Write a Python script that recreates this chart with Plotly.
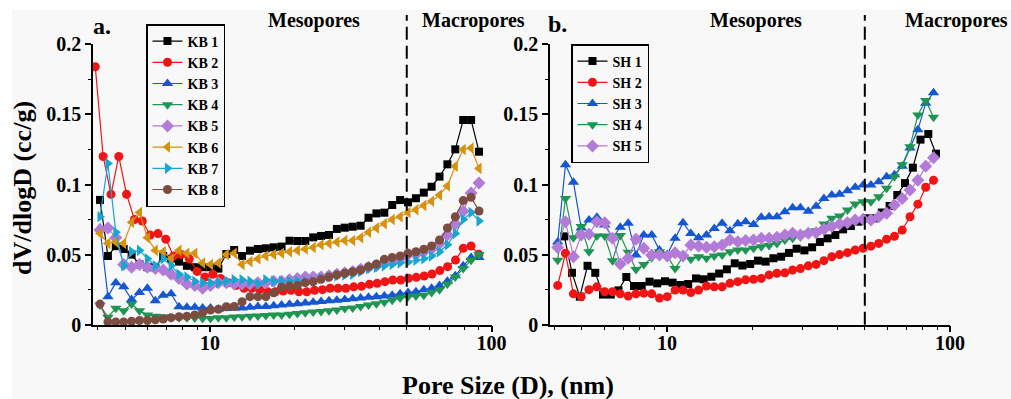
import plotly.graph_objects as go

# ---------------- pore diameters (nm) ----------------
pore_kb = [4.067, 4.339, 4.628, 4.937, 5.266, 5.617, 5.993, 6.393, 6.819, 7.275,
           7.760, 8.278, 8.831, 9.413, 10.04, 10.71, 11.43, 12.19, 13.00, 13.87,
           14.80, 15.79, 16.84, 17.96, 19.16, 20.44, 21.80, 23.26, 24.81, 26.47,
           28.23, 30.12, 32.13, 34.28, 36.57, 39.01, 41.62, 44.39, 47.36, 50.52,
           53.89, 57.48, 61.26, 65.35, 69.72, 74.37, 79.34, 84.64, 90.29]
pore_kb2 = [3.913, 4.173, 4.450, 4.742, 5.054, 5.391, 5.747, 6.128, 6.535, 6.966,
            7.425, 7.913, 8.443, 9.000, 9.592, 10.23, 10.91, 11.63, 12.39, 13.21,
            14.09, 15.02, 16.02, 17.08, 18.20, 19.41, 20.69, 22.06, 23.52, 25.08,
            26.73, 28.50, 30.39, 32.40, 34.54, 36.85, 39.26, 41.85, 44.61, 47.58,
            50.72, 54.07, 57.66, 61.47, 65.52, 69.84, 74.50, 79.40, 84.64, 90.21]
pore_sh = [4.110, 4.378, 4.670, 4.975, 5.302, 5.653, 6.025, 6.420, 6.839, 7.293,
           7.771, 8.279, 8.830, 9.408, 10.02, 10.68, 11.39, 12.14, 12.93, 13.79,
           14.69, 15.66, 16.69, 17.79, 18.96, 20.22, 21.54, 22.95, 24.46, 26.09,
           27.79, 29.61, 31.57, 33.65, 35.85, 38.23, 40.73, 43.41, 46.24, 49.32,
           52.55, 56.00, 59.70, 63.62, 67.78, 72.23, 77.01, 82.06, 87.45]
pore_sh1 = [4.337, 4.617, 4.920, 5.239, 5.579, 5.940, 6.330, 6.740, 7.181, 7.646,
            8.140, 8.674, 9.235, 9.838, 10.47, 11.16, 11.88, 12.66, 13.48, 14.35,
            15.29, 16.28, 17.35, 18.47, 19.68, 20.96, 22.31, 23.77, 25.31, 26.97,
            28.71, 30.59, 32.57, 34.70, 36.95, 39.34, 41.91, 44.63, 47.54, 50.61,
            53.93, 57.41, 61.17, 65.13, 69.34, 73.90, 78.66, 83.82, 89.24]

# ---------------- dV/dlogD (cc/g), KB samples ----------------
kb1 = [0.089, 0.049, 0.056, 0.054, 0.050, 0.043, 0.041, 0.041, 0.049, 0.047,
       0.045, 0.042, 0.041, 0.041, 0.041, 0.040, 0.0504, 0.0533, 0.049, 0.0528,
       0.054, 0.0545, 0.0552, 0.0557, 0.0599, 0.0597, 0.0597, 0.0623, 0.0633, 0.064,
       0.0683, 0.0692, 0.0699, 0.0706, 0.0763, 0.0794, 0.0799, 0.0854, 0.0889, 0.0873,
       0.0902, 0.0942, 0.0984, 0.1056, 0.1144, 0.1251, 0.146, 0.146, 0.1234]
kb2 = [0.184, 0.120, 0.093, 0.120, 0.093, 0.075, 0.074, 0.064, 0.065, 0.061,
       0.049, 0.050, 0.047, 0.038, 0.034, 0.036, 0.033, 0.030, 0.028, 0.026,
       0.026, 0.025, 0.0235, 0.0235, 0.024, 0.0245, 0.0235, 0.0235, 0.0245, 0.025,
       0.026, 0.026, 0.026, 0.027, 0.0274, 0.0288, 0.0295, 0.0307, 0.0319, 0.0319,
       0.0331, 0.0338, 0.0347, 0.0362, 0.0386, 0.0414, 0.0461, 0.0545, 0.0561, 0.0502]
kb3 = [0.069, 0.020, 0.030, 0.027, 0.018, 0.023, 0.026, 0.017, 0.021, 0.022,
       0.0128, 0.0125, 0.0125, 0.012, 0.012, 0.011, 0.0115, 0.012, 0.012, 0.0125,
       0.013, 0.013, 0.0135, 0.014, 0.0145, 0.015, 0.0155, 0.016, 0.0165, 0.017,
       0.0175, 0.018, 0.0185, 0.019, 0.0195, 0.020, 0.0205, 0.021, 0.022, 0.023,
       0.0235, 0.025, 0.026, 0.028, 0.031, 0.035, 0.042, 0.048, 0.048]
kb4 = [0.014, 0.0053, 0.0117, 0.010, 0.0148, 0.010, 0.007, 0.006, 0.0057, 0.005,
       0.005, 0.005, 0.0048, 0.0045, 0.0045, 0.005, 0.005, 0.0055, 0.0057, 0.006,
       0.0062, 0.0065, 0.007, 0.007, 0.0075, 0.008, 0.0085, 0.009, 0.0095, 0.010,
       0.0105, 0.0115, 0.012, 0.013, 0.014, 0.015, 0.016, 0.0175, 0.019, 0.020,
       0.0205, 0.021, 0.023, 0.025, 0.029, 0.034, 0.040, 0.046, 0.050]
kb5 = [0.0675, 0.069, 0.062, 0.043, 0.041, 0.043, 0.041, 0.040, 0.039, 0.036,
       0.033, 0.029, 0.028, 0.026, 0.028, 0.030, 0.030, 0.029, 0.029, 0.029,
       0.030, 0.030, 0.031, 0.031, 0.032, 0.033, 0.034, 0.034, 0.034, 0.035,
       0.036, 0.037, 0.038, 0.0395, 0.041, 0.042, 0.044, 0.045, 0.047, 0.050,
       0.050, 0.052, 0.054, 0.058, 0.064, 0.072, 0.081, 0.094, 0.101]
kb6 = [0.065, 0.058, 0.059, 0.058, 0.073, 0.080, 0.062, 0.053, 0.052, 0.047,
       0.053, 0.051, 0.051, 0.044, 0.043, 0.044, 0.050, 0.051, 0.043, 0.045,
       0.047, 0.049, 0.050, 0.051, 0.052, 0.053, 0.054, 0.055, 0.057, 0.058,
       0.059, 0.060, 0.060, 0.062, 0.066, 0.069, 0.072, 0.075, 0.077, 0.080,
       0.082, 0.085, 0.088, 0.0925, 0.099, 0.113, 0.125, 0.126, 0.1115]
kb7 = [0.077, 0.115, 0.066, 0.042, 0.052, 0.053, 0.047, 0.042, 0.047, 0.042,
       0.036, 0.034, 0.031, 0.030, 0.030, 0.030, 0.031, 0.032, 0.032, 0.031,
       0.029, 0.032, 0.031, 0.031, 0.031, 0.031, 0.031, 0.031, 0.033, 0.034,
       0.035, 0.0355, 0.036, 0.038, 0.040, 0.041, 0.042, 0.043, 0.044, 0.0445,
       0.046, 0.047, 0.049, 0.052, 0.057, 0.065, 0.075, 0.080, 0.074]
kb8 = [0.0147, 0.002, 0.002, 0.002, 0.0025, 0.003, 0.003, 0.0035, 0.004, 0.005,
       0.0057, 0.006, 0.007, 0.0085, 0.0105, 0.011, 0.0128, 0.013, 0.0164, 0.020,
       0.020, 0.020, 0.0228, 0.0267, 0.0276, 0.028, 0.030, 0.0307, 0.0324, 0.034,
       0.0355, 0.0367, 0.0378, 0.039, 0.0414, 0.0433, 0.0466, 0.048, 0.049, 0.051,
       0.052, 0.0538, 0.0561, 0.0604, 0.069, 0.077, 0.0885, 0.0909, 0.0811]

# ---------------- dV/dlogD (cc/g), SH samples ----------------
sh1 = [0.063, 0.037, 0.020, 0.042, 0.037, 0.0215, 0.0215, 0.0245, 0.034, 0.0276,
       0.0276, 0.0307, 0.0295, 0.031, 0.030, 0.0283, 0.029, 0.033, 0.0324, 0.0342,
       0.0365, 0.0395, 0.0438, 0.0422, 0.0433, 0.0457, 0.045, 0.0474, 0.0485, 0.0512,
       0.0542, 0.053, 0.0552, 0.059, 0.0616, 0.064, 0.068, 0.0704, 0.0735, 0.0759,
       0.0759, 0.080, 0.0847, 0.0925, 0.101, 0.112, 0.132, 0.136, 0.122]
sh2 = [0.028, 0.051, 0.022, 0.020, 0.025, 0.027, 0.0235, 0.0235, 0.022, 0.0205,
       0.022, 0.0225, 0.022, 0.019, 0.020, 0.0247, 0.0247, 0.023, 0.0247, 0.0276,
       0.027, 0.027, 0.0295, 0.0307, 0.032, 0.0324, 0.033, 0.0355, 0.0367, 0.037,
       0.039, 0.040, 0.042, 0.043, 0.0457, 0.0485, 0.050, 0.0514, 0.0533, 0.0545,
       0.056, 0.058, 0.061, 0.063, 0.0675, 0.077, 0.086, 0.098, 0.103]
sh3 = [0.059, 0.114, 0.1016, 0.069, 0.0747, 0.0766, 0.0711, 0.062, 0.0695, 0.0723,
       0.0497, 0.064, 0.064, 0.0533, 0.050, 0.0616, 0.0728, 0.065, 0.062, 0.064,
       0.0687, 0.0723, 0.067, 0.072, 0.0735, 0.0715, 0.0766, 0.077, 0.077, 0.0806,
       0.0835, 0.0835, 0.081, 0.0845, 0.090, 0.0925, 0.093, 0.0956, 0.098, 0.0996,
       0.0996, 0.102, 0.1056, 0.107, 0.113, 0.126, 0.139, 0.158, 0.1655]
sh4 = [0.046, 0.090, 0.062, 0.070, 0.052, 0.0633, 0.0633, 0.0457, 0.0636, 0.0517,
       0.0393, 0.043, 0.0477, 0.052, 0.049, 0.040, 0.0485, 0.0466, 0.0485, 0.0474,
       0.049, 0.0497, 0.052, 0.0533, 0.0533, 0.0545, 0.0556, 0.0565, 0.058, 0.0604,
       0.0616, 0.0628, 0.0652, 0.067, 0.0718, 0.0759, 0.0775, 0.0818, 0.0861, 0.0877,
       0.0877, 0.0913, 0.0973, 0.1056, 0.114, 0.127, 0.1496, 0.160, 0.148]
sh5 = [0.055, 0.0735, 0.0485, 0.064, 0.0645, 0.0735, 0.0728, 0.0616, 0.0433, 0.0474,
       0.061, 0.0545, 0.0497, 0.0497, 0.049, 0.0514, 0.049, 0.0569, 0.0561, 0.0552,
       0.0556, 0.0569, 0.0604, 0.0592, 0.060, 0.0604, 0.0616, 0.0616, 0.0623, 0.064,
       0.0652, 0.064, 0.0652, 0.0656, 0.068, 0.070, 0.0718, 0.0728, 0.0747, 0.0752,
       0.0747, 0.077, 0.0795, 0.0854, 0.090, 0.096, 0.103, 0.113, 0.119]

y_ticks = [0, 0.05, 0.1, 0.15, 0.2]
y_ticktext = ["0", "0.05", "0.1", "0.15", "0.2"]
x_ticks = [10, 100]
x_ticktext = ["10", "100"]
boundary_nm = 50  # mesopore / macropore limit

SERIF = "Liberation Serif, Times New Roman, serif"
W, H = 1011, 399

BLACK = "#000000"
RED = "#f01414"
BLUE = "#1457d0"
GREEN = "#1e9552"
PURPLE = "#b27bd8"
GOLD = "#d4920f"
CYAN = "#18a5d0"
BROWN = "#7c4c40"

kb_series = [
    ("KB 1", pore_kb, kb1, BLACK, "square", 8),
    ("KB 2", pore_kb2, kb2, RED, "circle", 9),
    ("KB 3", pore_kb, kb3, BLUE, "triangle-up", 10),
    ("KB 4", pore_kb, kb4, GREEN, "triangle-down", 10),
    ("KB 5", pore_kb, kb5, PURPLE, "diamond", 10),
    ("KB 6", pore_kb, kb6, GOLD, "triangle-left", 10),
    ("KB 7", pore_kb, kb7, CYAN, "triangle-right", 10),
    ("KB 8", pore_kb, kb8, BROWN, "circle", 9),
]
sh_series = [
    ("SH 1", pore_sh1, sh1, BLACK, "square", 8),
    ("SH 2", pore_sh, sh2, RED, "circle", 9),
    ("SH 3", pore_sh, sh3, BLUE, "triangle-up", 10),
    ("SH 4", pore_sh, sh4, GREEN, "triangle-down", 10),
    ("SH 5", pore_sh, sh5, PURPLE, "diamond", 10),
]

fig = go.Figure()
for name, xs, ys, col, sym, sz in kb_series:
    fig.add_trace(go.Scatter(
        x=xs, y=ys, name=name, mode="lines+markers", xaxis="x", yaxis="y",
        line=dict(color=col, width=1.2),
        marker=dict(symbol=sym, size=sz, color=col, line=dict(width=0)),
        cliponaxis=False, legend="legend"))
for name, xs, ys, col, sym, sz in sh_series:
    fig.add_trace(go.Scatter(
        x=xs, y=ys, name=name, mode="lines+markers", xaxis="x2", yaxis="y2",
        line=dict(color=col, width=1.2),
        marker=dict(symbol=sym, size=sz, color=col, line=dict(width=0)),
        cliponaxis=False, legend="legend2"))

y_bot = (H - 324.7) / H
y_top = (H - 44.3) / H


def xaxis_style(domain, rng, anchor):
    return dict(
        domain=domain, type="log", range=rng, anchor=anchor, automargin=False,
        tickmode="array", tickvals=x_ticks, ticktext=x_ticktext,
        ticks="outside", ticklen=6, tickwidth=1.5, tickcolor="black",
        ticklabelstandoff=-6,
        showline=True, linewidth=1.5, linecolor="black",
        showgrid=False, zeroline=False,
        tickfont=dict(family=SERIF, size=20, color="black", weight="bold"),
        minor=dict(tickmode="array", tickvals=[4, 5, 6, 7, 8, 9, 20, 30, 40, 50, 60, 70, 80, 90],
                   ticks="outside", ticklen=3.5, tickwidth=1.2, tickcolor="black", showgrid=False),
    )


def yaxis_style(anchor):
    return dict(
        domain=[y_bot, y_top], range=[0, 0.2], anchor=anchor, automargin=False,
        tickmode="array", tickvals=y_ticks, ticktext=y_ticktext,
        ticks="outside", ticklen=6, tickwidth=1.5, tickcolor="black",
        showline=True, linewidth=1.5, linecolor="black",
        showgrid=False, zeroline=False,
        tickfont=dict(family=SERIF, size=20, color="black", weight="bold"),
        minor=dict(tickmode="array", tickvals=[0.025, 0.075, 0.125, 0.175],
                   ticks="outside", ticklen=3.5, tickwidth=1.2, tickcolor="black", showgrid=False),
    )


BG = "#f8f8f8"
shapes = [dict(type="rect", xref="paper", yref="paper", x0=12 / W, x1=1, y0=0, y1=(H - 10) / H,
               fillcolor=BG, line=dict(width=0), layer="below")]
for xr in ("x", "x2"):
    shapes.append(dict(type="line", xref=xr, yref="paper", x0=boundary_nm, x1=boundary_nm,
                       y0=y_bot, y1=(H - 15) / H,
                       line=dict(color="black", width=2, dash="13px,6px")))


def label(text, x, y, size, xanchor="center", yanchor="middle", angle=0):
    return dict(text=text, x=x / W, y=(H - y) / H, xref="paper", yref="paper",
                xanchor=xanchor, yanchor=yanchor, showarrow=False, textangle=angle,
                font=dict(family=SERIF, size=size, color="black", weight="bold"))


annotations = [
    label("dV/dlogD (cc/g)", 22, 188, 26, angle=-90),
    label("Pore Size (D), (nm)", 508, 385, 26),
    label("a.", 91, 26, 24, xanchor="left"),
    label("b.", 546, 24, 24, xanchor="left"),
    label("Mesopores", 314, 20, 20),
    label("Macropores", 420, 20, 20, xanchor="left"),
    label("Mesopores", 756, 20, 20),
    label("Macropores", 903, 20, 20, xanchor="left"),
]

legend_common = dict(bgcolor=BG, bordercolor="black", borderwidth=1.5,
                     xanchor="left", yanchor="top", traceorder="normal")

fig.update_layout(
    width=W, height=H, autosize=False, margin=dict(l=0, r=0, t=0, b=0, pad=0),
    paper_bgcolor="white", plot_bgcolor="rgba(0,0,0,0)",
    showlegend=True,
    xaxis=xaxis_style([93 / W, 491.5 / W], [0.5844, 2.0], "y"),
    yaxis=yaxis_style("x"),
    xaxis2=xaxis_style([550 / W, 950 / W], [0.5866, 2.0], "y2"),
    yaxis2=yaxis_style("x2"),
    legend=dict(x=146 / W, y=(H - 24) / H,
                font=dict(family=SERIF, size=14, color="black", weight="bold"), **legend_common),
    legend2=dict(x=571 / W, y=(H - 44) / H,
                 font=dict(family=SERIF, size=14, color="black", weight="bold"), **legend_common),
    shapes=shapes,
    annotations=annotations,
)

fig.write_html("out.html", config={"responsive": False})
